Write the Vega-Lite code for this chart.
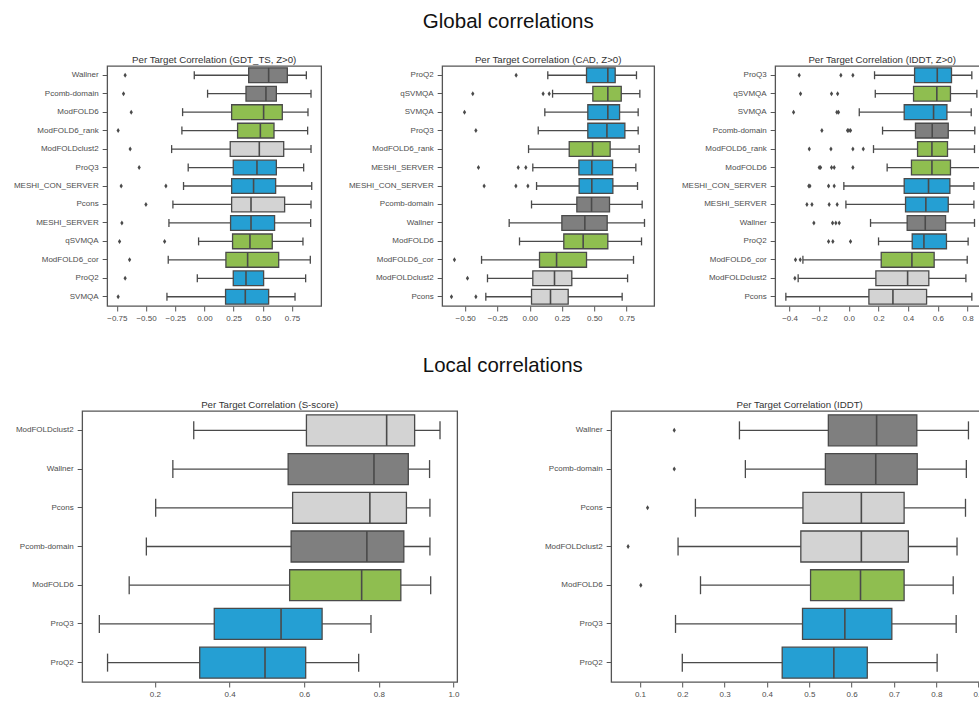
{
"$schema": "https://vega.github.io/schema/vega-lite/v6.json",
"padding": {"left": 12, "top": 12, "right": 0, "bottom": 0},
"autosize": {"type": "pad"},
"datasets": {
"box": [
{"p":"g","m":"Wallner","lo":-0.087,"q1":0.379,"med":0.550,"q3":0.710,"hi":0.873},
{"p":"g","m":"Pcomb-domain","lo":0.027,"q1":0.356,"med":0.527,"q3":0.616,"hi":0.913},
{"p":"g","m":"ModFOLD6","lo":-0.187,"q1":0.233,"med":0.507,"q3":0.667,"hi":0.887},
{"p":"g","m":"ModFOLD6_rank","lo":-0.193,"q1":0.284,"med":0.479,"q3":0.596,"hi":0.884},
{"p":"g","m":"ModFOLDclust2","lo":-0.281,"q1":0.221,"med":0.470,"q3":0.679,"hi":0.913},
{"p":"g","m":"ProQ3","lo":-0.139,"q1":0.247,"med":0.450,"q3":0.616,"hi":0.850},
{"p":"g","m":"MESHI_CON_SERVER","lo":-0.179,"q1":0.233,"med":0.421,"q3":0.610,"hi":0.919},
{"p":"g","m":"Pcons","lo":-0.270,"q1":0.233,"med":0.399,"q3":0.687,"hi":0.913},
{"p":"g","m":"MESHI_SERVER","lo":-0.304,"q1":0.224,"med":0.399,"q3":0.601,"hi":0.910},
{"p":"g","m":"qSVMQA","lo":-0.050,"q1":0.241,"med":0.390,"q3":0.581,"hi":0.844},
{"p":"g","m":"ModFOLD6_cor","lo":-0.310,"q1":0.184,"med":0.370,"q3":0.636,"hi":0.907},
{"p":"g","m":"ProQ2","lo":-0.061,"q1":0.247,"med":0.356,"q3":0.507,"hi":0.867},
{"p":"g","m":"SVMQA","lo":-0.321,"q1":0.181,"med":0.350,"q3":0.550,"hi":0.776},
{"p":"c","m":"ProQ2","lo":0.140,"q1":0.440,"med":0.605,"q3":0.662,"hi":0.827},
{"p":"c","m":"qSVMQA","lo":0.177,"q1":0.489,"med":0.605,"q3":0.709,"hi":0.853},
{"p":"c","m":"SVMQA","lo":0.117,"q1":0.450,"med":0.605,"q3":0.696,"hi":0.840},
{"p":"c","m":"ProQ3","lo":0.066,"q1":0.450,"med":0.598,"q3":0.737,"hi":0.840},
{"p":"c","m":"ModFOLD6_rank","lo":-0.009,"q1":0.306,"med":0.487,"q3":0.623,"hi":0.848},
{"p":"c","m":"MESHI_SERVER","lo":0.024,"q1":0.381,"med":0.481,"q3":0.642,"hi":0.822},
{"p":"c","m":"MESHI_CON_SERVER","lo":0.053,"q1":0.383,"med":0.481,"q3":0.644,"hi":0.835},
{"p":"c","m":"Pcomb-domain","lo":0.014,"q1":0.365,"med":0.479,"q3":0.618,"hi":0.871},
{"p":"c","m":"Wallner","lo":-0.159,"q1":0.249,"med":0.427,"q3":0.600,"hi":0.889},
{"p":"c","m":"ModFOLD6","lo":-0.079,"q1":0.264,"med":0.414,"q3":0.605,"hi":0.866},
{"p":"c","m":"ModFOLD6_cor","lo":-0.373,"q1":0.076,"med":0.208,"q3":0.440,"hi":0.804},
{"p":"c","m":"ModFOLDclust2","lo":-0.327,"q1":0.024,"med":0.192,"q3":0.326,"hi":0.758},
{"p":"c","m":"Pcons","lo":-0.340,"q1":0.014,"med":0.161,"q3":0.298,"hi":0.716},
{"p":"l","m":"ProQ3","lo":0.173,"q1":0.443,"med":0.596,"q3":0.692,"hi":0.829},
{"p":"l","m":"qSVMQA","lo":0.178,"q1":0.436,"med":0.593,"q3":0.685,"hi":0.863},
{"p":"l","m":"SVMQA","lo":0.070,"q1":0.373,"med":0.571,"q3":0.661,"hi":0.825},
{"p":"l","m":"Pcomb-domain","lo":0.227,"q1":0.449,"med":0.562,"q3":0.670,"hi":0.849},
{"p":"l","m":"ModFOLD6_rank","lo":0.166,"q1":0.463,"med":0.560,"q3":0.665,"hi":0.847},
{"p":"l","m":"ModFOLD6","lo":0.258,"q1":0.422,"med":0.560,"q3":0.685,"hi":0.885},
{"p":"l","m":"MESHI_CON_SERVER","lo":-0.034,"q1":0.373,"med":0.537,"q3":0.681,"hi":0.843},
{"p":"l","m":"MESHI_SERVER","lo":-0.020,"q1":0.382,"med":0.519,"q3":0.670,"hi":0.843},
{"p":"l","m":"Wallner","lo":0.146,"q1":0.393,"med":0.515,"q3":0.652,"hi":0.847},
{"p":"l","m":"ProQ2","lo":0.200,"q1":0.427,"med":0.506,"q3":0.658,"hi":0.804},
{"p":"l","m":"ModFOLD6_cor","lo":-0.310,"q1":0.218,"med":0.425,"q3":0.575,"hi":0.798},
{"p":"l","m":"ModFOLDclust2","lo":-0.342,"q1":0.182,"med":0.396,"q3":0.539,"hi":0.789},
{"p":"l","m":"Pcons","lo":-0.425,"q1":0.135,"med":0.297,"q3":0.524,"hi":0.829},
{"p":"s","m":"ModFOLDclust2","lo":0.304,"q1":0.606,"med":0.821,"q3":0.896,"hi":0.964},
{"p":"s","m":"Wallner","lo":0.248,"q1":0.557,"med":0.787,"q3":0.879,"hi":0.936},
{"p":"s","m":"Pcons","lo":0.202,"q1":0.569,"med":0.776,"q3":0.874,"hi":0.937},
{"p":"s","m":"Pcomb-domain","lo":0.177,"q1":0.565,"med":0.768,"q3":0.867,"hi":0.937},
{"p":"s","m":"ModFOLD6","lo":0.131,"q1":0.561,"med":0.754,"q3":0.859,"hi":0.939},
{"p":"s","m":"ProQ3","lo":0.051,"q1":0.359,"med":0.538,"q3":0.648,"hi":0.779},
{"p":"s","m":"ProQ2","lo":0.073,"q1":0.320,"med":0.495,"q3":0.604,"hi":0.746},
{"p":"i","m":"Wallner","lo":0.335,"q1":0.545,"med":0.659,"q3":0.754,"hi":0.876},
{"p":"i","m":"Pcomb-domain","lo":0.349,"q1":0.538,"med":0.657,"q3":0.755,"hi":0.871},
{"p":"i","m":"Pcons","lo":0.231,"q1":0.485,"med":0.623,"q3":0.724,"hi":0.869},
{"p":"i","m":"ModFOLDclust2","lo":0.190,"q1":0.480,"med":0.623,"q3":0.734,"hi":0.849},
{"p":"i","m":"ModFOLD6","lo":0.243,"q1":0.503,"med":0.621,"q3":0.724,"hi":0.840},
{"p":"i","m":"ProQ3","lo":0.184,"q1":0.484,"med":0.584,"q3":0.695,"hi":0.847},
{"p":"i","m":"ProQ2","lo":0.200,"q1":0.436,"med":0.558,"q3":0.637,"hi":0.802}
],
"out": [
{"p":"g","m":"Wallner","v":-0.679},{"p":"g","m":"Pcomb-domain","v":-0.693},{"p":"g","m":"ModFOLD6","v":-0.627},
{"p":"g","m":"ModFOLD6_rank","v":-0.739},{"p":"g","m":"ModFOLDclust2","v":-0.636},{"p":"g","m":"ProQ3","v":-0.559},
{"p":"g","m":"MESHI_CON_SERVER","v":-0.713},{"p":"g","m":"MESHI_CON_SERVER","v":-0.330},{"p":"g","m":"Pcons","v":-0.501},
{"p":"g","m":"MESHI_SERVER","v":-0.707},{"p":"g","m":"qSVMQA","v":-0.727},{"p":"g","m":"qSVMQA","v":-0.341},
{"p":"g","m":"ModFOLD6_cor","v":-0.641},{"p":"g","m":"ProQ2","v":-0.679},{"p":"g","m":"SVMQA","v":-0.739},
{"p":"c","m":"ProQ2","v":-0.105},{"p":"c","m":"qSVMQA","v":-0.441},{"p":"c","m":"qSVMQA","v":0.104},{"p":"c","m":"qSVMQA","v":0.151},
{"p":"c","m":"SVMQA","v":-0.505},{"p":"c","m":"ProQ3","v":-0.417},
{"p":"c","m":"MESHI_SERVER","v":-0.397},{"p":"c","m":"MESHI_SERVER","v":-0.089},{"p":"c","m":"MESHI_SERVER","v":-0.030},
{"p":"c","m":"MESHI_CON_SERVER","v":-0.353},{"p":"c","m":"MESHI_CON_SERVER","v":-0.107},{"p":"c","m":"MESHI_CON_SERVER","v":-0.014},
{"p":"c","m":"ModFOLD6_cor","v":-0.583},{"p":"c","m":"ModFOLDclust2","v":-0.482},{"p":"c","m":"Pcons","v":-0.606},{"p":"c","m":"Pcons","v":-0.417},
{"p":"l","m":"ProQ3","v":-0.335},{"p":"l","m":"ProQ3","v":-0.054},{"p":"l","m":"ProQ3","v":0.027},
{"p":"l","m":"qSVMQA","v":-0.326},{"p":"l","m":"qSVMQA","v":-0.117},{"p":"l","m":"qSVMQA","v":-0.076},
{"p":"l","m":"SVMQA","v":-0.373},{"p":"l","m":"SVMQA","v":-0.081},{"p":"l","m":"SVMQA","v":-0.070},
{"p":"l","m":"Pcomb-domain","v":-0.182},{"p":"l","m":"Pcomb-domain","v":-0.009},{"p":"l","m":"Pcomb-domain","v":0.000},{"p":"l","m":"Pcomb-domain","v":0.011},
{"p":"l","m":"ModFOLD6_rank","v":-0.267},{"p":"l","m":"ModFOLD6_rank","v":-0.121},{"p":"l","m":"ModFOLD6_rank","v":0.027},{"p":"l","m":"ModFOLD6_rank","v":0.097},
{"p":"l","m":"ModFOLD6","v":-0.200},{"p":"l","m":"ModFOLD6","v":-0.191},{"p":"l","m":"ModFOLD6","v":-0.117},{"p":"l","m":"ModFOLD6","v":-0.099},{"p":"l","m":"ModFOLD6","v":0.027},
{"p":"l","m":"MESHI_CON_SERVER","v":-0.270},{"p":"l","m":"MESHI_CON_SERVER","v":-0.263},{"p":"l","m":"MESHI_CON_SERVER","v":-0.137},{"p":"l","m":"MESHI_CON_SERVER","v":-0.099},
{"p":"l","m":"MESHI_SERVER","v":-0.283},{"p":"l","m":"MESHI_SERVER","v":-0.249},{"p":"l","m":"MESHI_SERVER","v":-0.133},{"p":"l","m":"MESHI_SERVER","v":-0.079},
{"p":"l","m":"Wallner","v":-0.236},{"p":"l","m":"Wallner","v":-0.110},{"p":"l","m":"Wallner","v":-0.088},{"p":"l","m":"Wallner","v":-0.065},
{"p":"l","m":"ProQ2","v":-0.137},{"p":"l","m":"ProQ2","v":-0.108},{"p":"l","m":"ProQ2","v":0.011},
{"p":"l","m":"ModFOLD6_cor","v":-0.360},{"p":"l","m":"ModFOLD6_cor","v":-0.328},{"p":"l","m":"ModFOLDclust2","v":-0.364},
{"p":"i","m":"Wallner","v":0.181},{"p":"i","m":"Pcomb-domain","v":0.181},{"p":"i","m":"Pcons","v":0.118},
{"p":"i","m":"ModFOLDclust2","v":0.072},{"p":"i","m":"ModFOLD6","v":0.102}
]
},
"config": {
"view": {"stroke": "#555555", "strokeWidth": 1.3},
"axis": {"labelFont": "Liberation Sans", "labelFontSize": 8, "labelColor": "#4d4d4d", "tickColor": "#555555", "tickSize": 5, "tickWidth": 1, "domain": false, "grid": false, "labelPadding": 3, "labelFlush": false},
"axisY": {"labelPadding": 4},
"title": {"font": "Liberation Sans", "fontSize": 9.7, "fontWeight": "normal", "color": "#333333", "offset": 1}
},
"center": true,
"spacing": 33,
"vconcat": [
{
"title": {"text": "Global correlations", "fontSize": 20.5, "color": "#111111", "offset": 22, "anchor": "middle", "dx": 7},
"spacing": 25,
"resolve": {"scale": {"x": "independent", "y": "independent"}},
"hconcat": [
{
"width": 214, "height": 240,
"title": "Per Target Correlation (GDT_TS, Z>0)",
"encoding": {"y": {"field": "m", "type": "nominal", "title": null, "scale": {"type": "band", "domain": ["Wallner","Pcomb-domain","ModFOLD6","ModFOLD6_rank","ModFOLDclust2","ProQ3","MESHI_CON_SERVER","Pcons","MESHI_SERVER","qSVMQA","ModFOLD6_cor","ProQ2","SVMQA"], "paddingInner": 0.2, "paddingOuter": 0.1}}},
"layer": [
{"data": {"name": "box"}, "transform": [{"filter": "datum.p === 'g'"}], "mark": {"type": "rule", "color": "#4a4a4a", "strokeWidth": 1.3},
 "encoding": {"x": {"field": "lo", "type": "quantitative", "title": null, "scale": {"domain": [-0.833, 1.0], "nice": false, "zero": false}, "axis": {"values": [-0.75,-0.5,-0.25,0,0.25,0.5,0.75], "format": ".2f"}}, "x2": {"field": "hi"}}},
{"data": {"name": "box"}, "transform": [{"filter": "datum.p === 'g'"}], "mark": {"type": "bar", "stroke": "#4a4a4a", "strokeWidth": 1.3, "opacity": 1},
 "encoding": {"x": {"field": "q1", "type": "quantitative", "title": null, "scale": {"domain": [-0.833, 1.0], "nice": false, "zero": false}, "axis": {"values": [-0.75,-0.5,-0.25,0,0.25,0.5,0.75], "format": ".2f"}}, "x2": {"field": "q3"},
 "color": {"field": "m", "type": "nominal", "legend": null, "scale": {"domain": ["ProQ2","ProQ3","SVMQA","MESHI_SERVER","MESHI_CON_SERVER","ModFOLD6","ModFOLD6_rank","ModFOLD6_cor","qSVMQA","Wallner","Pcomb-domain","ModFOLDclust2","Pcons"], "range": ["#259fd3","#259fd3","#259fd3","#259fd3","#259fd3","#8fbe50","#8fbe50","#8fbe50","#8fbe50","#7f7f7f","#7f7f7f","#d3d3d3","#d3d3d3"]}}}},
{"data": {"name": "box"}, "transform": [{"filter": "datum.p === 'g'"}], "mark": {"type": "tick", "color": "#4a4a4a", "thickness": 1.6, "size": 14.8, "opacity": 1},
 "encoding": {"x": {"field": "med", "type": "quantitative", "title": null, "scale": {"domain": [-0.833, 1.0], "nice": false, "zero": false}, "axis": {"values": [-0.75,-0.5,-0.25,0,0.25,0.5,0.75], "format": ".2f"}}}},
{"data": {"name": "box"}, "transform": [{"filter": "datum.p === 'g'"}, {"fold": ["lo", "hi"], "as": ["k", "v"]}], "mark": {"type": "tick", "color": "#4a4a4a", "thickness": 1.3, "size": 8, "opacity": 1},
 "encoding": {"x": {"field": "v", "type": "quantitative", "title": null, "scale": {"domain": [-0.833, 1.0], "nice": false, "zero": false}, "axis": {"values": [-0.75,-0.5,-0.25,0,0.25,0.5,0.75], "format": ".2f"}}}},
{"data": {"name": "out"}, "transform": [{"filter": "datum.p === 'g'"}], "mark": {"type": "point", "shape": "M0,-1L0.65,0L0,1L-0.65,0Z", "filled": true, "color": "#4a4a4a", "size": 25, "opacity": 1},
 "encoding": {"x": {"field": "v", "type": "quantitative", "title": null, "scale": {"domain": [-0.833, 1.0], "nice": false, "zero": false}, "axis": {"values": [-0.75,-0.5,-0.25,0,0.25,0.5,0.75], "format": ".2f"}}}}
]
},
{
"width": 212, "height": 240,
"title": "Per Target Correlation (CAD, Z>0)",
"encoding": {"y": {"field": "m", "type": "nominal", "title": null, "scale": {"type": "band", "domain": ["ProQ2","qSVMQA","SVMQA","ProQ3","ModFOLD6_rank","MESHI_SERVER","MESHI_CON_SERVER","Pcomb-domain","Wallner","ModFOLD6","ModFOLD6_cor","ModFOLDclust2","Pcons"], "paddingInner": 0.2, "paddingOuter": 0.1}}},
"layer": [
{"data": {"name": "box"}, "transform": [{"filter": "datum.p === 'c'"}], "mark": {"type": "rule", "color": "#4a4a4a", "strokeWidth": 1.3},
 "encoding": {"x": {"field": "lo", "type": "quantitative", "title": null, "scale": {"domain": [-0.678, 0.964], "nice": false, "zero": false}, "axis": {"values": [-0.5,-0.25,0,0.25,0.5,0.75], "format": ".2f"}}, "x2": {"field": "hi"}}},
{"data": {"name": "box"}, "transform": [{"filter": "datum.p === 'c'"}], "mark": {"type": "bar", "stroke": "#4a4a4a", "strokeWidth": 1.3, "opacity": 1},
 "encoding": {"x": {"field": "q1", "type": "quantitative", "title": null, "scale": {"domain": [-0.678, 0.964], "nice": false, "zero": false}, "axis": {"values": [-0.5,-0.25,0,0.25,0.5,0.75], "format": ".2f"}}, "x2": {"field": "q3"},
 "color": {"field": "m", "type": "nominal", "legend": null, "scale": {"domain": ["ProQ2","ProQ3","SVMQA","MESHI_SERVER","MESHI_CON_SERVER","ModFOLD6","ModFOLD6_rank","ModFOLD6_cor","qSVMQA","Wallner","Pcomb-domain","ModFOLDclust2","Pcons"], "range": ["#259fd3","#259fd3","#259fd3","#259fd3","#259fd3","#8fbe50","#8fbe50","#8fbe50","#8fbe50","#7f7f7f","#7f7f7f","#d3d3d3","#d3d3d3"]}}}},
{"data": {"name": "box"}, "transform": [{"filter": "datum.p === 'c'"}], "mark": {"type": "tick", "color": "#4a4a4a", "thickness": 1.6, "size": 14.8, "opacity": 1},
 "encoding": {"x": {"field": "med", "type": "quantitative", "title": null, "scale": {"domain": [-0.678, 0.964], "nice": false, "zero": false}, "axis": {"values": [-0.5,-0.25,0,0.25,0.5,0.75], "format": ".2f"}}}},
{"data": {"name": "box"}, "transform": [{"filter": "datum.p === 'c'"}, {"fold": ["lo", "hi"], "as": ["k", "v"]}], "mark": {"type": "tick", "color": "#4a4a4a", "thickness": 1.3, "size": 8, "opacity": 1},
 "encoding": {"x": {"field": "v", "type": "quantitative", "title": null, "scale": {"domain": [-0.678, 0.964], "nice": false, "zero": false}, "axis": {"values": [-0.5,-0.25,0,0.25,0.5,0.75], "format": ".2f"}}}},
{"data": {"name": "out"}, "transform": [{"filter": "datum.p === 'c'"}], "mark": {"type": "point", "shape": "M0,-1L0.65,0L0,1L-0.65,0Z", "filled": true, "color": "#4a4a4a", "size": 25, "opacity": 1},
 "encoding": {"x": {"field": "v", "type": "quantitative", "title": null, "scale": {"domain": [-0.678, 0.964], "nice": false, "zero": false}, "axis": {"values": [-0.5,-0.25,0,0.25,0.5,0.75], "format": ".2f"}}}}
]
},
{
"width": 214, "height": 240,
"title": "Per Target Correlation (IDDT, Z>0)",
"encoding": {"y": {"field": "m", "type": "nominal", "title": null, "scale": {"type": "band", "domain": ["ProQ3","qSVMQA","SVMQA","Pcomb-domain","ModFOLD6_rank","ModFOLD6","MESHI_CON_SERVER","MESHI_SERVER","Wallner","ProQ2","ModFOLD6_cor","ModFOLDclust2","Pcons"], "paddingInner": 0.2, "paddingOuter": 0.1}}},
"layer": [
{"data": {"name": "box"}, "transform": [{"filter": "datum.p === 'l'"}], "mark": {"type": "rule", "color": "#4a4a4a", "strokeWidth": 1.3},
 "encoding": {"x": {"field": "lo", "type": "quantitative", "title": null, "scale": {"domain": [-0.497, 0.946], "nice": false, "zero": false}, "axis": {"values": [-0.4,-0.2,0,0.2,0.4,0.6,0.8], "format": ".1f"}}, "x2": {"field": "hi"}}},
{"data": {"name": "box"}, "transform": [{"filter": "datum.p === 'l'"}], "mark": {"type": "bar", "stroke": "#4a4a4a", "strokeWidth": 1.3, "opacity": 1},
 "encoding": {"x": {"field": "q1", "type": "quantitative", "title": null, "scale": {"domain": [-0.497, 0.946], "nice": false, "zero": false}, "axis": {"values": [-0.4,-0.2,0,0.2,0.4,0.6,0.8], "format": ".1f"}}, "x2": {"field": "q3"},
 "color": {"field": "m", "type": "nominal", "legend": null, "scale": {"domain": ["ProQ2","ProQ3","SVMQA","MESHI_SERVER","MESHI_CON_SERVER","ModFOLD6","ModFOLD6_rank","ModFOLD6_cor","qSVMQA","Wallner","Pcomb-domain","ModFOLDclust2","Pcons"], "range": ["#259fd3","#259fd3","#259fd3","#259fd3","#259fd3","#8fbe50","#8fbe50","#8fbe50","#8fbe50","#7f7f7f","#7f7f7f","#d3d3d3","#d3d3d3"]}}}},
{"data": {"name": "box"}, "transform": [{"filter": "datum.p === 'l'"}], "mark": {"type": "tick", "color": "#4a4a4a", "thickness": 1.6, "size": 14.8, "opacity": 1},
 "encoding": {"x": {"field": "med", "type": "quantitative", "title": null, "scale": {"domain": [-0.497, 0.946], "nice": false, "zero": false}, "axis": {"values": [-0.4,-0.2,0,0.2,0.4,0.6,0.8], "format": ".1f"}}}},
{"data": {"name": "box"}, "transform": [{"filter": "datum.p === 'l'"}, {"fold": ["lo", "hi"], "as": ["k", "v"]}], "mark": {"type": "tick", "color": "#4a4a4a", "thickness": 1.3, "size": 8, "opacity": 1},
 "encoding": {"x": {"field": "v", "type": "quantitative", "title": null, "scale": {"domain": [-0.497, 0.946], "nice": false, "zero": false}, "axis": {"values": [-0.4,-0.2,0,0.2,0.4,0.6,0.8], "format": ".1f"}}}},
{"data": {"name": "out"}, "transform": [{"filter": "datum.p === 'l'"}], "mark": {"type": "point", "shape": "M0,-1L0.65,0L0,1L-0.65,0Z", "filled": true, "color": "#4a4a4a", "size": 25, "opacity": 1},
 "encoding": {"x": {"field": "v", "type": "quantitative", "title": null, "scale": {"domain": [-0.497, 0.946], "nice": false, "zero": false}, "axis": {"values": [-0.4,-0.2,0,0.2,0.4,0.6,0.8], "format": ".1f"}}}}
]
}
]
},
{
"title": {"text": "Local correlations", "fontSize": 20.4, "color": "#111111", "offset": 23, "anchor": "middle", "dx": -12},
"spacing": 83,
"resolve": {"scale": {"x": "independent", "y": "independent"}},
"hconcat": [
{
"width": 375, "height": 271,
"title": "Per Target Correlation (S-score)",
"encoding": {"y": {"field": "m", "type": "nominal", "title": null, "scale": {"type": "band", "domain": ["ModFOLDclust2","Wallner","Pcons","Pcomb-domain","ModFOLD6","ProQ3","ProQ2"], "paddingInner": 0.2, "paddingOuter": 0.1}}},
"layer": [
{"data": {"name": "box"}, "transform": [{"filter": "datum.p === 's'"}], "mark": {"type": "rule", "color": "#4a4a4a", "strokeWidth": 1.3},
 "encoding": {"x": {"field": "lo", "type": "quantitative", "title": null, "scale": {"domain": [0.005, 1.01], "nice": false, "zero": false}, "axis": {"values": [0.2,0.4,0.6,0.8,1.0], "format": ".1f"}}, "x2": {"field": "hi"}}},
{"data": {"name": "box"}, "transform": [{"filter": "datum.p === 's'"}], "mark": {"type": "bar", "stroke": "#4a4a4a", "strokeWidth": 1.3, "opacity": 1},
 "encoding": {"x": {"field": "q1", "type": "quantitative", "title": null, "scale": {"domain": [0.005, 1.01], "nice": false, "zero": false}, "axis": {"values": [0.2,0.4,0.6,0.8,1.0], "format": ".1f"}}, "x2": {"field": "q3"},
 "color": {"field": "m", "type": "nominal", "legend": null, "scale": {"domain": ["ProQ2","ProQ3","SVMQA","MESHI_SERVER","MESHI_CON_SERVER","ModFOLD6","ModFOLD6_rank","ModFOLD6_cor","qSVMQA","Wallner","Pcomb-domain","ModFOLDclust2","Pcons"], "range": ["#259fd3","#259fd3","#259fd3","#259fd3","#259fd3","#8fbe50","#8fbe50","#8fbe50","#8fbe50","#7f7f7f","#7f7f7f","#d3d3d3","#d3d3d3"]}}}},
{"data": {"name": "box"}, "transform": [{"filter": "datum.p === 's'"}], "mark": {"type": "tick", "color": "#4a4a4a", "thickness": 1.6, "size": 31, "opacity": 1},
 "encoding": {"x": {"field": "med", "type": "quantitative", "title": null, "scale": {"domain": [0.005, 1.01], "nice": false, "zero": false}, "axis": {"values": [0.2,0.4,0.6,0.8,1.0], "format": ".1f"}}}},
{"data": {"name": "box"}, "transform": [{"filter": "datum.p === 's'"}, {"fold": ["lo", "hi"], "as": ["k", "v"]}], "mark": {"type": "tick", "color": "#4a4a4a", "thickness": 1.3, "size": 18, "opacity": 1},
 "encoding": {"x": {"field": "v", "type": "quantitative", "title": null, "scale": {"domain": [0.005, 1.01], "nice": false, "zero": false}, "axis": {"values": [0.2,0.4,0.6,0.8,1.0], "format": ".1f"}}}}
]
},
{
"width": 403, "height": 271,
"title": {"text": "Per Target Correlation (IDDT)", "dx": -13},
"encoding": {"y": {"field": "m", "type": "nominal", "title": null, "scale": {"type": "band", "domain": ["Wallner","Pcomb-domain","Pcons","ModFOLDclust2","ModFOLD6","ProQ3","ProQ2"], "paddingInner": 0.2, "paddingOuter": 0.1}}},
"layer": [
{"data": {"name": "box"}, "transform": [{"filter": "datum.p === 'i'"}], "mark": {"type": "rule", "color": "#4a4a4a", "strokeWidth": 1.3},
 "encoding": {"x": {"field": "lo", "type": "quantitative", "title": null, "scale": {"domain": [0.032, 0.984], "nice": false, "zero": false}, "axis": {"values": [0.1,0.2,0.3,0.4,0.5,0.6,0.7,0.8,0.9], "format": ".1f"}}, "x2": {"field": "hi"}}},
{"data": {"name": "box"}, "transform": [{"filter": "datum.p === 'i'"}], "mark": {"type": "bar", "stroke": "#4a4a4a", "strokeWidth": 1.3, "opacity": 1},
 "encoding": {"x": {"field": "q1", "type": "quantitative", "title": null, "scale": {"domain": [0.032, 0.984], "nice": false, "zero": false}, "axis": {"values": [0.1,0.2,0.3,0.4,0.5,0.6,0.7,0.8,0.9], "format": ".1f"}}, "x2": {"field": "q3"},
 "color": {"field": "m", "type": "nominal", "legend": null, "scale": {"domain": ["ProQ2","ProQ3","SVMQA","MESHI_SERVER","MESHI_CON_SERVER","ModFOLD6","ModFOLD6_rank","ModFOLD6_cor","qSVMQA","Wallner","Pcomb-domain","ModFOLDclust2","Pcons"], "range": ["#259fd3","#259fd3","#259fd3","#259fd3","#259fd3","#8fbe50","#8fbe50","#8fbe50","#8fbe50","#7f7f7f","#7f7f7f","#d3d3d3","#d3d3d3"]}}}},
{"data": {"name": "box"}, "transform": [{"filter": "datum.p === 'i'"}], "mark": {"type": "tick", "color": "#4a4a4a", "thickness": 1.6, "size": 31, "opacity": 1},
 "encoding": {"x": {"field": "med", "type": "quantitative", "title": null, "scale": {"domain": [0.032, 0.984], "nice": false, "zero": false}, "axis": {"values": [0.1,0.2,0.3,0.4,0.5,0.6,0.7,0.8,0.9], "format": ".1f"}}}},
{"data": {"name": "box"}, "transform": [{"filter": "datum.p === 'i'"}, {"fold": ["lo", "hi"], "as": ["k", "v"]}], "mark": {"type": "tick", "color": "#4a4a4a", "thickness": 1.3, "size": 18, "opacity": 1},
 "encoding": {"x": {"field": "v", "type": "quantitative", "title": null, "scale": {"domain": [0.032, 0.984], "nice": false, "zero": false}, "axis": {"values": [0.1,0.2,0.3,0.4,0.5,0.6,0.7,0.8,0.9], "format": ".1f"}}}},
{"data": {"name": "out"}, "transform": [{"filter": "datum.p === 'i'"}], "mark": {"type": "point", "shape": "M0,-1L0.65,0L0,1L-0.65,0Z", "filled": true, "color": "#4a4a4a", "size": 25, "opacity": 1},
 "encoding": {"x": {"field": "v", "type": "quantitative", "title": null, "scale": {"domain": [0.032, 0.984], "nice": false, "zero": false}, "axis": {"values": [0.1,0.2,0.3,0.4,0.5,0.6,0.7,0.8,0.9], "format": ".1f"}}}}
]
}
]
}
]
}
